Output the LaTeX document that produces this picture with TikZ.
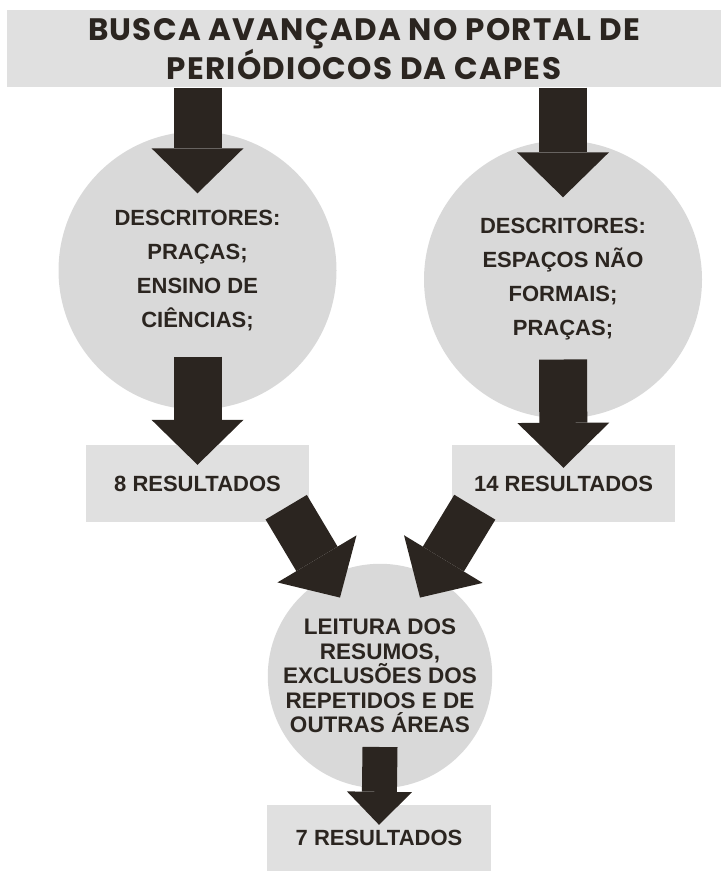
\documentclass[tikz,border=0pt]{standalone}
\usepackage{fontspec}
\setmainfont{Liberation Sans}
\newfontfamily\titlefont{Poppins}[LetterSpace=4]
\usetikzlibrary{arrows.meta,positioning}
\definecolor{ink}{HTML}{2B2520}
\definecolor{boxgray}{HTML}{E0E0E0}
\definecolor{discgray}{HTML}{D9D9D9}

\begin{document}
\begin{tikzpicture}[x=1pt, y=-1pt, text=ink,
    disc/.style={circle, fill=discgray, inner sep=0pt, align=center, font=\bfseries\fontsize{22}{34}\selectfont},
    resbox/.style={rectangle, fill=boxgray, inner sep=0pt, minimum width=223pt, minimum height=77pt, font=\bfseries\fontsize{22}{24}\selectfont},
    blockarrow/.style={draw=ink, line width=48pt, -{Triangle[width=92pt, length=45pt, line width=0pt]}},
    smallarrow/.style={draw=ink, line width=35pt, -{Triangle[width=65pt, length=33pt, line width=0pt]}}]
    \useasboundingbox (0,0) rectangle (721,872);
    \node [rectangle, fill=boxgray, minimum width=714pt, minimum height=77pt, inner sep=0pt, align=center,
           font=\titlefont\bfseries\fontsize{31}{37}\selectfont] (title) at (364,49)
           {BUSCA AVANÇADA NO PORTAL DE\\PERIÓDIOCOS DA CAPES};
    \node [disc, minimum size=278pt] (left) at (197.5,270.5) {DESCRITORES:\\PRAÇAS;\\ENSINO DE\\CIÊNCIAS;};
    \node [disc, minimum size=278pt] (right) at (563,279.5) {DESCRITORES:\\ESPAÇOS NÃO\\FORMAIS;\\PRAÇAS;};
    \node [resbox] (eight) at (197.5,483.5) {8 RESULTADOS};
    \node [resbox] (fourteen) at (563.5,483.5) {14 RESULTADOS};
    \node [disc, minimum size=224pt, font=\bfseries\fontsize{22.5}{24.5}\selectfont] (reading) at (380,676)
          {LEITURA DOS\\RESUMOS,\\EXCLUSÕES DOS\\REPETIDOS E DE\\OUTRAS ÁREAS};
    \node [resbox, minimum width=224pt, minimum height=66pt] (seven) at (379,838) {7 RESULTADOS};
    \path (title.south -| left) edge [blockarrow] ([yshift=-62pt]left.north);
    \path (title.south -| right) edge [blockarrow] ([yshift=-57pt]right.north);
    \path ([yshift=-86pt]left.center) edge [blockarrow] ([yshift=-20pt]eight.north);
    \path ([yshift=-80pt]right.center) edge [blockarrow] ([yshift=-23pt]fourteen.north);
    \path ([shift={(-23pt,15pt)}]eight.south east) edge [blockarrow] ([shift={(-40pt,-34pt)}]reading.north);
    \path ([shift={(23pt,15pt)}]fourteen.south west) edge [blockarrow] ([shift={(40pt,-34pt)}]reading.north);
    \path ([yshift=-71pt]reading.center) edge [smallarrow] ([yshift=-20pt]seven.north);
\end{tikzpicture}
\end{document}
